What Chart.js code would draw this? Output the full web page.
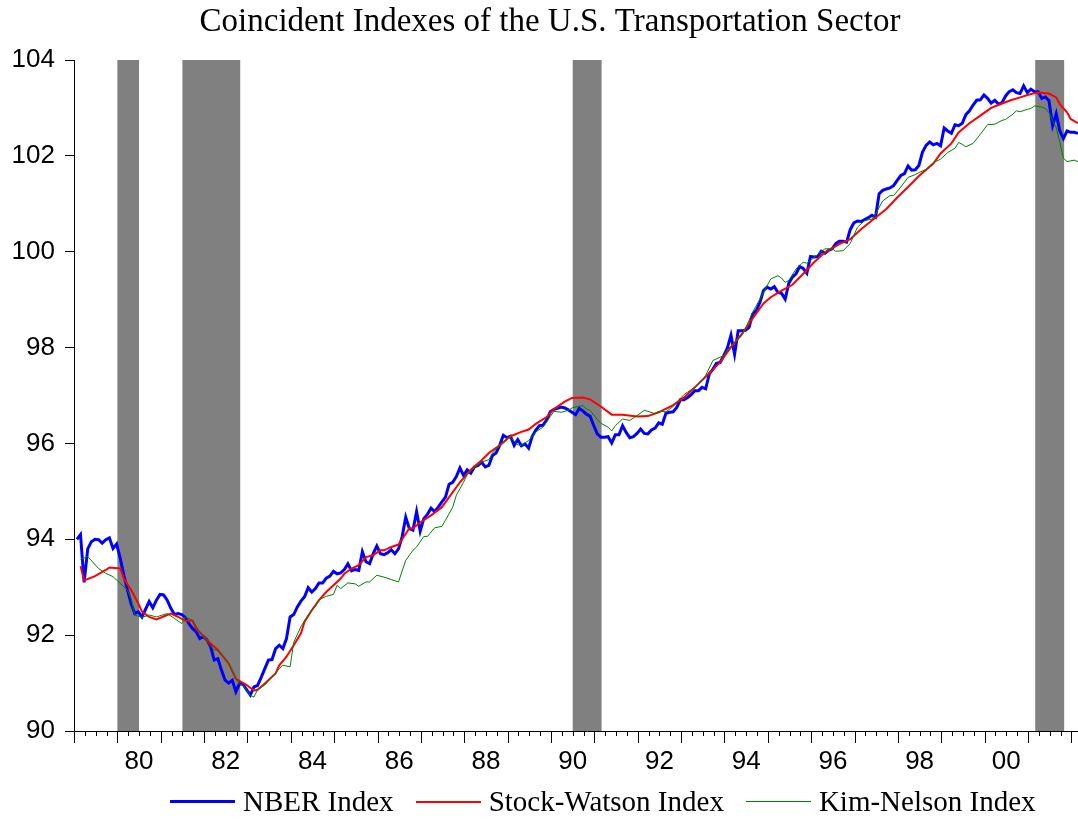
<!DOCTYPE html>
<html>
<head>
<meta charset="utf-8">
<title>Coincident Indexes of the U.S. Transportation Sector</title>
<script src="https://cdn.jsdelivr.net/npm/chart.js@4.4.0/dist/chart.umd.min.js"></script>
<style>
  html, body { margin: 0; padding: 0; background: #fff; overflow: hidden; }
  .wrap { position: relative; width: 1100px; height: 825px; }
  #legend {
    position: absolute; left: 170px; top: 785px;
    display: flex; align-items: center; white-space: nowrap;
    font-family: "Liberation Serif", "Times New Roman", serif; font-size: 29px; color: #000;
  }
  .item { display: flex; align-items: center; margin-right: 22px; }
  .swatch { width: 65px; margin-right: 8px; }
</style>
</head>
<body>
<div class="wrap">
  <canvas id="chart" width="1100" height="825"></canvas>
  <div id="legend"></div>
</div>
<script>
// ===============================
// DATA (monthly, month 0 = 1979-01)
// ===============================
const nberValues = [
  94.00, 94.10, 93.10, 93.80, 93.95, 94.00, 93.99, 93.92, 93.99, 94.03,
  93.81, 93.90, 93.60, 93.25, 92.94, 92.66, 92.45, 92.49, 92.38, 92.54,
  92.70, 92.57, 92.73, 92.85, 92.84, 92.73, 92.56, 92.43, 92.45, 92.43,
  92.37, 92.24, 92.14, 92.07, 91.93, 91.97, 91.90, 91.76, 91.48, 91.51,
  91.27, 91.06, 91.00, 91.06, 90.82, 90.99, 90.97, 90.86, 90.75, 90.92,
  90.95, 91.12, 91.30, 91.48, 91.49, 91.72, 91.79, 91.72, 91.93, 92.38,
  92.43, 92.59, 92.71, 92.80, 92.99, 92.90, 92.97, 93.09, 93.09, 93.19,
  93.23, 93.33, 93.28, 93.30, 93.37, 93.49, 93.34, 93.37, 93.35, 93.74,
  93.53, 93.49, 93.70, 93.86, 93.70, 93.68, 93.72, 93.78, 93.70, 93.80,
  94.05, 94.46, 94.22, 94.19, 94.58, 94.17, 94.43, 94.52, 94.65, 94.58,
  94.67, 94.78, 94.88, 95.15, 95.19, 95.31, 95.49, 95.33, 95.45, 95.38,
  95.51, 95.54, 95.61, 95.51, 95.54, 95.75, 95.80, 95.96, 96.17, 96.12,
  96.15, 95.96, 96.08, 95.95, 95.99, 95.90, 96.15, 96.28, 96.37, 96.38,
  96.49, 96.66, 96.71, 96.73, 96.76, 96.74, 96.70, 96.65, 96.60, 96.73,
  96.68, 96.61, 96.57, 96.38, 96.20, 96.13, 96.13, 96.14, 96.01, 96.18,
  96.18, 96.37, 96.23, 96.12, 96.14, 96.21, 96.30, 96.21, 96.20, 96.28,
  96.32, 96.43, 96.40, 96.63, 96.65, 96.66, 96.75, 96.91, 96.91, 96.96,
  97.02, 97.10, 97.10, 97.17, 97.14, 97.45, 97.55, 97.67, 97.69, 97.83,
  97.99, 98.26, 97.86, 98.35, 98.35, 98.36, 98.42, 98.70, 98.77, 98.94,
  99.19, 99.26, 99.22, 99.27, 99.15, 99.13, 99.01, 99.34, 99.47, 99.54,
  99.69, 99.65, 99.55, 99.90, 99.89, 99.90, 100.01, 99.97, 100.03, 100.06,
  100.17, 100.22, 100.22, 100.20, 100.46, 100.60, 100.64, 100.63, 100.67, 100.71,
  100.76, 100.72, 101.21, 101.28, 101.31, 101.33, 101.38, 101.49, 101.59, 101.63,
  101.79, 101.70, 101.71, 101.80, 102.08, 102.22, 102.29, 102.23, 102.26, 102.21,
  102.58, 102.52, 102.47, 102.65, 102.63, 102.68, 102.86, 102.94, 103.06, 103.16,
  103.17, 103.27, 103.20, 103.10, 103.16, 103.08, 103.11, 103.25, 103.34, 103.38,
  103.32, 103.30, 103.46, 103.32, 103.39, 103.34, 103.34, 103.20, 103.23, 103.15,
  102.63, 102.88, 102.52, 102.36, 102.52, 102.49, 102.49, 102.47
];

// Stock-Watson: read at the months below
const swMonths = [
  1, 2, 5, 8, 9, 12, 13, 15, 17, 18, 20, 22, 25, 26, 28, 30, 32, 33, 36, 39,
  42, 44, 47, 49, 50, 52, 55, 56, 58, 60, 62, 63, 65, 67, 69, 71, 73, 74, 76, 78,
  80, 82, 84, 85, 87, 89, 90, 92, 93, 95, 98, 101, 103, 106, 109, 112, 114, 117, 120, 123,
  125, 127, 130, 132, 135, 137, 140, 142, 145, 148, 151, 155, 158, 161, 165, 168, 171, 174, 178, 181,
  184, 187, 190, 192, 195, 198, 201, 204, 207, 211, 214, 217, 220, 224, 227, 230, 233, 237, 239, 242,
  244, 247, 250, 253, 255, 258, 261, 264, 266, 269, 271, 272, 274, 275, 277
];
const swValues = [
  93.44, 93.14, 93.23, 93.36, 93.41, 93.39, 93.18, 92.94, 92.66, 92.49,
  92.38, 92.33, 92.42, 92.45, 92.38, 92.30, 92.30, 92.14, 91.90, 91.69,
  91.41, 91.09, 90.96, 90.84, 90.86, 90.99, 91.20, 91.37, 91.55, 91.79,
  92.04, 92.28, 92.52, 92.73, 92.90, 93.04, 93.18, 93.28, 93.39, 93.46,
  93.63, 93.67, 93.77, 93.77, 93.84, 93.89, 94.00, 94.23, 94.23, 94.35,
  94.50, 94.67, 94.88, 95.19, 95.45, 95.65, 95.80, 95.96, 96.15, 96.24,
  96.29, 96.41, 96.55, 96.72, 96.87, 96.95, 96.96, 96.92, 96.77, 96.60,
  96.60, 96.56, 96.57, 96.65, 96.80, 96.96, 97.17, 97.39, 97.69, 98.01,
  98.28, 98.61, 98.92, 99.05, 99.19, 99.31, 99.54, 99.78, 99.99, 100.16,
  100.26, 100.47, 100.65, 100.89, 101.13, 101.35, 101.58, 101.84, 102.05, 102.26,
  102.49, 102.68, 102.84, 103.00, 103.06, 103.15, 103.22, 103.29, 103.32, 103.30,
  103.22, 103.08, 102.91, 102.77, 102.68
];

// Kim-Nelson: read at the months below
const knMonths = [
  1, 3, 6, 8, 10, 12, 14, 15, 16, 18, 20, 22, 25, 27, 29, 30, 32, 34, 36, 38,
  39, 42, 44, 45, 46, 47, 48, 49, 50, 52, 54, 56, 57, 59, 60, 62, 64, 66, 67, 69,
  71, 72, 73, 75, 77, 78, 80, 81, 83, 85, 87, 89, 91, 93, 94, 96, 97, 99, 101, 102,
  104, 105, 107, 108, 110, 112, 114, 115, 117, 119, 120, 122, 123, 125, 127, 129, 131, 132, 134, 136,
  137, 138, 140, 141, 142, 144, 145, 147, 148, 149, 151, 153, 155, 157, 158, 160, 161, 163, 165, 166,
  168, 169, 171, 173, 174, 176, 178, 179, 180, 182, 184, 185, 187, 189, 191, 192, 194, 195, 196, 197,
  199, 201, 202, 204, 207, 209, 210, 212, 214, 216, 218, 220, 221, 223, 225, 226, 228, 230, 232, 233,
  235, 237, 239, 241, 243, 244, 245, 246, 248, 250, 252, 254, 256, 257, 259, 260, 261, 263, 264, 265,
  267, 268, 269, 271, 272, 273, 274, 276, 277
];
const knValues = [
  93.58, 93.64, 93.39, 93.29, 93.22, 93.08, 92.94, 92.77, 92.42, 92.37,
  92.42, 92.38, 92.45, 92.35, 92.24, 92.38, 92.31, 92.07, 91.86, 91.69,
  91.69, 91.41, 91.10, 90.98, 90.95, 90.84, 90.74, 90.71, 90.86, 90.96,
  91.13, 91.30, 91.37, 91.34, 91.85, 92.18, 92.42, 92.60, 92.74, 92.81,
  92.85, 93.04, 92.97, 93.09, 93.07, 93.02, 93.11, 93.11, 93.25, 93.21,
  93.16, 93.11, 93.56, 93.77, 93.84, 94.06, 94.06, 94.24, 94.27, 94.40,
  94.67, 94.92, 95.19, 95.35, 95.49, 95.61, 95.66, 95.80, 95.96, 96.10,
  96.13, 95.97, 95.96, 96.06, 96.24, 96.34, 96.56, 96.67, 96.65, 96.69,
  96.74, 96.76, 96.79, 96.72, 96.69, 96.50, 96.42, 96.34, 96.26, 96.37,
  96.51, 96.48, 96.58, 96.69, 96.67, 96.62, 96.67, 96.66, 96.77, 96.86,
  97.02, 97.07, 97.17, 97.31, 97.42, 97.73, 97.80, 97.83, 97.95, 98.11,
  98.25, 98.39, 98.74, 99.01, 99.29, 99.43, 99.50, 99.45, 99.36, 99.40,
  99.64, 99.78, 99.76, 99.88, 100.06, 100.06, 100.01, 100.02, 100.17, 100.51,
  100.65, 100.68, 100.79, 101.06, 101.17, 101.17, 101.35, 101.55, 101.61, 101.65,
  101.72, 101.86, 101.93, 102.07, 102.16, 102.28, 102.24, 102.19, 102.26, 102.45,
  102.65, 102.66, 102.74, 102.76, 102.87, 102.94, 102.92, 102.97, 102.99, 103.04,
  103.02, 102.99, 102.90, 102.59, 102.28, 101.95, 101.88, 101.91, 101.88
];

// NBER recessions (peak month -> trough month)
const recessionStarts = ["1980-01", "1981-07", "1990-07", "2001-03"];
const recessionEnds   = ["1980-07", "1982-11", "1991-03", "2001-11"];

const xTickYears  = [1980, 1982, 1984, 1986, 1988, 1990, 1992, 1994, 1996, 1998, 2000];
const xTickLabels = ["80", "82", "84", "86", "88", "90", "92", "94", "96", "98", "00"];
const yTickValues = [90, 92, 94, 96, 98, 100, 102, 104];

// ===============================
// HELPERS
// ===============================
const monthToYear = m => 1979 + (m + 0.8) / 12;
const dateToYear = s => {
  const [y, mo] = s.split("-").map(Number);
  return y + (mo - 1) / 12;
};
const toPoints = (months, values) => values.map((v, i) => ({ x: monthToYear(months[i]), y: v }));

const SANS = '"Liberation Sans", Arial, sans-serif';
const SERIF = '"Liberation Serif", "Times New Roman", serif';

// grey recession bars behind the lines
const recessionBars = {
  id: "recessionBars",
  beforeDatasetsDraw(chart) {
    const { ctx, chartArea, scales: { x } } = chart;
    ctx.save();
    ctx.fillStyle = "#808080";
    recessionStarts.forEach((s, i) => {
      const x0 = x.getPixelForValue(dateToYear(s));
      const x1 = x.getPixelForValue(dateToYear(recessionEnds[i]));
      ctx.fillRect(x0, chartArea.top, x1 - x0, chartArea.bottom - chartArea.top);
    });
    ctx.restore();
  }
};

// year / quarter tick marks under the x axis
const dateTicks = {
  id: "dateTicks",
  afterDraw(chart) {
    const { ctx, chartArea, scales: { x } } = chart;
    ctx.save();
    ctx.strokeStyle = "#000";
    ctx.lineWidth = 1;
    ctx.beginPath();
    for (let y = 1979; y <= 2003; y++) {
      for (let q = 0; q < 4; q++) {
        const v = y + q / 4;
        if (v > x.max) break;
        const px = Math.round(x.getPixelForValue(v)) + 0.5;
        ctx.moveTo(px, chartArea.bottom);
        ctx.lineTo(px, chartArea.bottom + (q === 0 ? 12 : 5));
      }
    }
    ctx.stroke();
    ctx.restore();
  }
};

// ===============================
// CHART
// ===============================
const series = [
  { label: "NBER Index", color: "#0000ff", width: 3, order: 3,
    data: nberValues.map((v, i) => ({ x: monthToYear(i), y: v })) },
  { label: "Stock-Watson Index", color: "#ff0000", width: 2, order: 2,
    data: toPoints(swMonths, swValues) },
  { label: "Kim-Nelson Index", color: "#008000", width: 1, order: 1,
    data: toPoints(knMonths, knValues) }
];

new Chart(document.getElementById("chart"), {
  type: "line",
  data: {
    datasets: series.map(s => ({
      label: s.label,
      data: s.data,
      borderColor: s.color,
      backgroundColor: s.color,
      borderWidth: s.width,
      order: s.order,
      pointRadius: 0,
      tension: 0,
      fill: false
    }))
  },
  options: {
    responsive: false,
    animation: false,
    layout: { padding: 0 },
    plugins: {
      legend: { display: false },
      tooltip: { enabled: false },
      title: {
        display: true,
        text: "Coincident Indexes of the U.S. Transportation Sector",
        color: "#000",
        font: { family: SERIF, size: 33, weight: "normal" },
        padding: { top: 3, bottom: 17.4 }
      }
    },
    scales: {
      x: {
        type: "linear",
        min: 1979,
        max: 2002.66,
        afterFit: s => { s.height = 94; },
        afterBuildTicks: axis => { axis.ticks = xTickYears.map(y => ({ value: y + 0.5 })); },
        grid: { display: false },
        border: { display: true, color: "#000", width: 1 },
        ticks: {
          autoSkip: false,
          maxRotation: 0,
          padding: 7,
          color: "#000",
          font: { family: SANS, size: 26 },
          callback: (v, i) => xTickLabels[i]
        }
      },
      y: {
        min: 90,
        max: 104,
        afterFit: s => { s.width = 74; },
        afterBuildTicks: axis => { axis.ticks = yTickValues.map(v => ({ value: v })); },
        grid: { drawOnChartArea: false, drawTicks: true, tickLength: 9, color: "#000" },
        border: { display: true, color: "#000", width: 1 },
        ticks: {
          padding: 10,
          color: "#000",
          font: { family: SANS, size: 26 },
          callback: v => String(v)
        }
      }
    }
  },
  plugins: [recessionBars, dateTicks]
});

// HTML legend under the plot
const legendEl = document.getElementById("legend");
series.forEach(s => {
  const item = document.createElement("div");
  item.className = "item";
  item.innerHTML = `<div class="swatch" style="height:${s.width}px;background:${s.color}"></div><span>${s.label}</span>`;
  legendEl.appendChild(item);
});
</script>
</body>
</html>
